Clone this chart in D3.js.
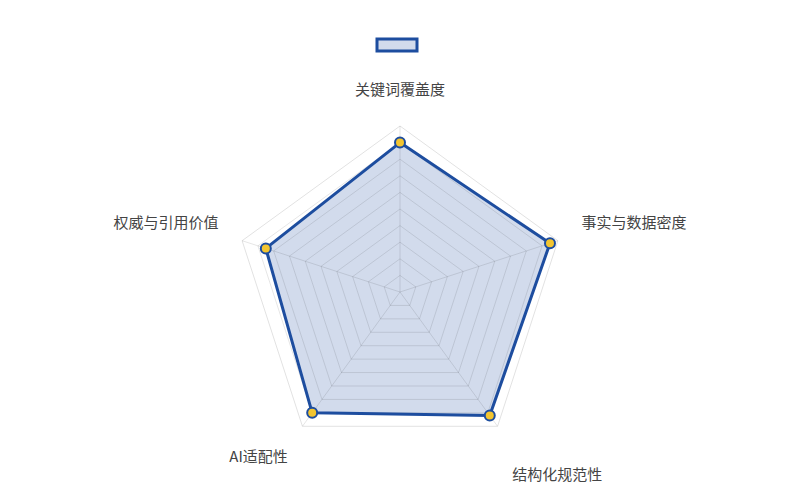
<!DOCTYPE html>
<html>
<head>
<meta charset="utf-8">
<script src="https://cdn.jsdelivr.net/npm/d3@7"></script>
<style>
	html, body { margin: 0; padding: 0; background: #fff; }
	svg { display: block; font-family: "Noto Sans CJK SC", "Noto Sans", sans-serif; }
</style>
</head>
<body>
<svg id="radar" width="800" height="500"></svg>
<script>
// chart data
let axis_names = ['关键词覆盖度', '事实与数据密度', '结构化规范性', 'AI适配性', '权威与引用价值'],
	series_values = [90, 95, 92, 90, 85],
	tick_values = [10, 20, 30, 40, 50, 60, 70, 80, 90, 100];

// layout
let width = 800,
	height = 500,
	cx = 400,
	cy = 292,
	radius = 166,
	line_color = '#1d4d9f',
	fill_color = 'rgba(29, 77, 159, 0.2)',
	point_color = '#f3c530',
	// label nudges per axis [dx, dy]
	label_nudge = [[0, -10], [0, -9], [0, 29], [0, 11], [0, -9]];

let svg = d3.select('#radar');

let rScale = d3.scaleLinear()
	.domain([0, 100])
	.range([0, radius]);

let angleScale = d3.scaleLinear()
	.domain([0, axis_names.length])
	.range([0, 2 * Math.PI]);

let g = svg.append('g')
	.attr('transform', `translate(${cx}, ${cy})`);

let point = (i, v) => {
	let a = angleScale(i);
	return [rScale(v) * Math.sin(a), -rScale(v) * Math.cos(a)];
};

let polygon = v => axis_names.map((d, i) => point(i, v));

// data area first so grid shows on top of it
let radial = d3.lineRadial()
	.angle((d, i) => angleScale(i))
	.radius(d => rScale(d))
	.curve(d3.curveLinearClosed);

g.append('path')
	.attr('d', radial(series_values))
	.attr('fill', fill_color)
	.attr('stroke', 'none');

// rings
g.selectAll('.ring')
	.data(tick_values)
	.enter()
	.append('polygon')
	.attr('class', 'ring')
	.attr('points', d => polygon(d).map(p => p.join(',')).join(' '))
	.attr('fill', 'none')
	.attr('stroke', d => d == 100 ? '#e2e2e2' : 'rgba(0,0,0,0.1)')
	.attr('stroke-width', 1);

// angle lines
g.selectAll('.spoke')
	.data(axis_names)
	.enter()
	.append('line')
	.attr('class', 'spoke')
	.attr('x1', 0)
	.attr('y1', 0)
	.attr('x2', (d, i) => point(i, 100)[0])
	.attr('y2', (d, i) => point(i, 100)[1])
	.attr('stroke', 'rgba(0,0,0,0.1)')
	.attr('stroke-width', 1);

// outline
g.append('path')
	.attr('d', radial(series_values))
	.attr('fill', 'none')
	.attr('stroke', line_color)
	.attr('stroke-width', 3)
	.attr('stroke-linejoin', 'round');

g.selectAll('.dot')
	.data(series_values)
	.enter()
	.append('circle')
	.attr('class', 'dot')
	.attr('cx', (d, i) => point(i, d)[0])
	.attr('cy', (d, i) => point(i, d)[1])
	.attr('r', 5)
	.attr('fill', point_color)
	.attr('stroke', line_color)
	.attr('stroke-width', 2);

// axis labels
g.selectAll('.axis_label')
	.data(axis_names)
	.enter()
	.append('text')
	.attr('class', 'axis_label')
	.attr('x', (d, i) => point(i, 115)[0] + label_nudge[i][0])
	.attr('y', (d, i) => point(i, 115)[1] + label_nudge[i][1])
	.attr('text-anchor', (d, i) => {
		let s = Math.sin(angleScale(i));
		return Math.abs(s) < 0.01 ? 'middle' : (s > 0 ? 'start' : 'end');
	})
	.attr('dominant-baseline', 'middle')
	.attr('font-size', 15)
	.attr('fill', '#444')
	.text(d => d);

// legend (empty label)
svg.append('rect')
	.attr('x', 377)
	.attr('y', 39)
	.attr('width', 40)
	.attr('height', 12)
	.attr('fill', fill_color)
	.attr('stroke', line_color)
	.attr('stroke-width', 3);
</script>
</body>
</html>
